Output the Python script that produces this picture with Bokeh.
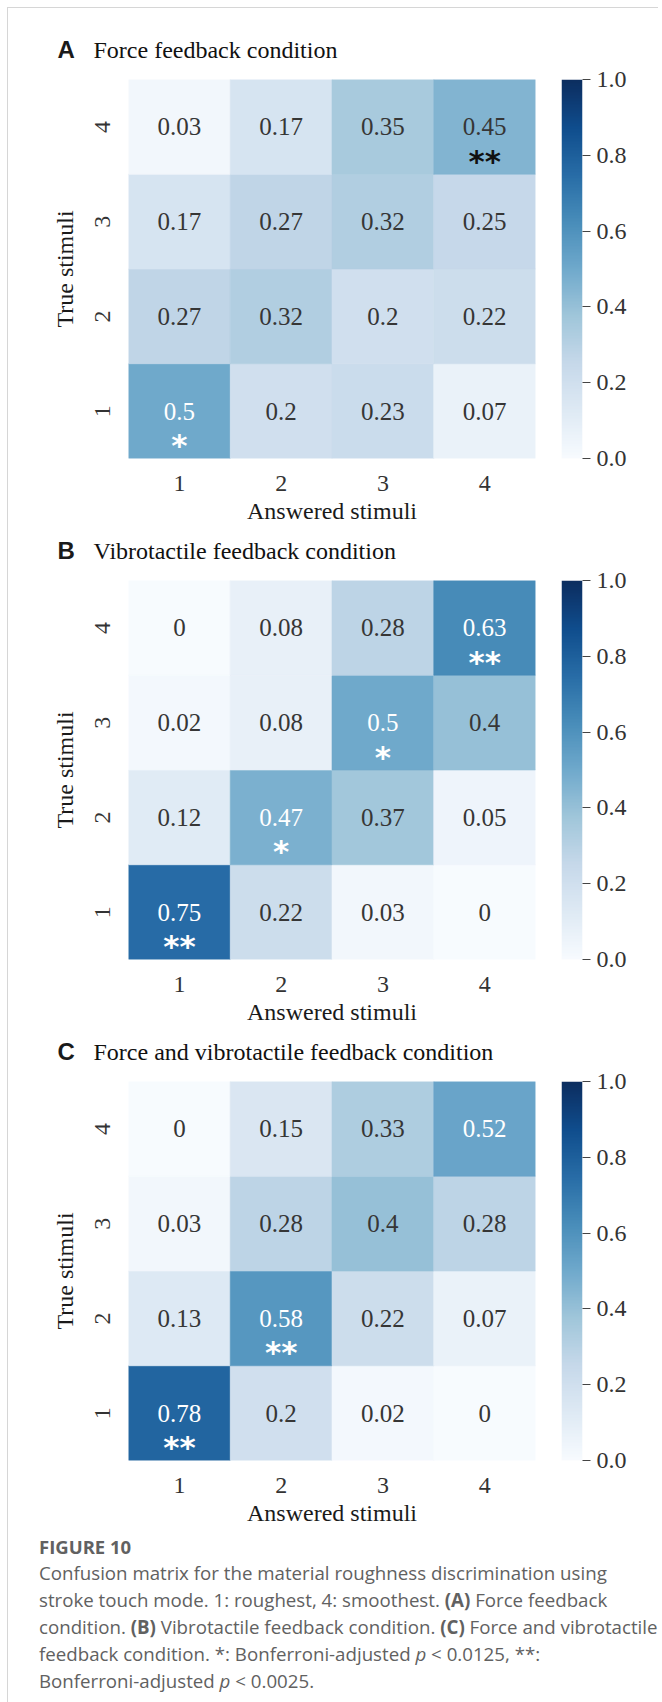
import numpy as np
from bokeh.plotting import figure
from bokeh.models import (ColumnDataSource, LinearColorMapper, FixedTicker,
                          Range1d, Div, PrintfTickFormatter)
from bokeh.layouts import column, row
from bokeh.core.properties import value
from bokeh.palettes import Blues9
from bokeh.embed import file_html
from bokeh.resources import INLINE

# ---------------- data ----------------
answered_ticks = ["1", "2", "3", "4"]
true_ticks = ["1", "2", "3", "4"]
# rows: true stimulus 1 (bottom) .. 4 (top); columns: answered stimulus 1..4
force_vals = [
    [0.5, 0.2, 0.23, 0.07],
    [0.27, 0.32, 0.2, 0.22],
    [0.17, 0.27, 0.32, 0.25],
    [0.03, 0.17, 0.35, 0.45],
]
force_sig = [
    ["*", "", "", ""],
    ["", "", "", ""],
    ["", "", "", ""],
    ["", "", "", "**"],
]
vibro_vals = [
    [0.75, 0.22, 0.03, 0],
    [0.12, 0.47, 0.37, 0.05],
    [0.02, 0.08, 0.5, 0.4],
    [0, 0.08, 0.28, 0.63],
]
vibro_sig = [
    ["**", "", "", ""],
    ["", "*", "", ""],
    ["", "", "*", ""],
    ["", "", "", "**"],
]
both_vals = [
    [0.78, 0.2, 0.02, 0],
    [0.13, 0.58, 0.22, 0.07],
    [0.03, 0.28, 0.4, 0.28],
    [0, 0.15, 0.33, 0.52],
]
both_sig = [
    ["**", "", "", ""],
    ["", "**", "", ""],
    ["", "", "", ""],
    ["", "", "", ""],
]
cbar_ticks = [0.0, 0.2, 0.4, 0.6, 0.8, 1.0]
panel_letters = ["A", "B", "C"]
panel_titles = ["Force feedback condition", "Vibrotactile feedback condition",
                "Force and vibrotactile feedback condition"]

# ---------------- palette (Blues, light -> dark, slightly muted) ----------------
base = list(reversed(Blues9))
rgb = np.array([[int(h[i:i + 2], 16) for i in (1, 3, 5)] for h in base], float)
pos = np.linspace(0, 1, len(base))
tt = np.linspace(0, 1, 256)
palette = []
for t in tt:
    c = np.array([np.interp(t, pos, rgb[:, k]) for k in range(3)])
    lum = 0.2126 * c[0] + 0.7152 * c[1] + 0.0722 * c[2]
    c = c * 0.88 + lum * 0.12
    c = c * (1 - 0.04 * t)
    palette.append('#%02x%02x%02x' % tuple(int(round(min(255, max(0, x)))) for x in c))

SERIF = "Liberation Serif"
TOTAL_W = 646
FW, FH = 407, 379
ML, GAP, MT, MB = 120, 26, 15, 72
CB_W = 21
UY = FH / 4.0


def header(idx, h):
    p = figure(width=TOTAL_W, height=h, x_range=Range1d(0, TOTAL_W), y_range=Range1d(0, h),
               output_backend="svg", toolbar_location=None, x_axis_location=None,
               y_axis_location=None, title=None, min_border_left=0, min_border_right=0,
               min_border_top=0, min_border_bottom=0, outline_line_color=None)
    p.grid.visible = False
    p.text(x=[49], y=[15], text=[panel_letters[idx]], text_font=value("Liberation Sans"),
           text_font_style="bold", text_font_size="24px", text_color="#1a1a1a",
           text_baseline="middle")
    p.text(x=[85], y=[15], text=[panel_titles[idx]], text_font=value(SERIF),
           text_font_size="24px", text_color="#111111", text_baseline="middle")
    return p


def panel(vals, sig):
    xs, ys, v, lab, tcol, st, scol, sy = [], [], [], [], [], [], [], []
    for i, r in enumerate(vals):
        for j, val in enumerate(r):
            xs.append(j + 1)
            ys.append(i + 1)
            v.append(val)
            lab.append(f"{val:g}")
            dark = val > 0.46
            tcol.append("#ffffff" if dark else "#363636")
            st.append(sig[i][j])
            scol.append("#ffffff" if dark else "#111111")
            sy.append(i + 1 - 34 / UY)
    src = ColumnDataSource(dict(x=xs, y=ys, v=v, label=lab, tcol=tcol, sig=st, scol=scol, sy=sy))
    mapper = LinearColorMapper(palette=palette, low=0.0, high=1.0)

    p = figure(frame_width=FW, frame_height=FH, x_range=Range1d(0.5, 4.5),
               y_range=Range1d(0.5, 4.5), output_backend="svg", toolbar_location=None,
               title=None, min_border_left=ML, min_border_right=GAP, min_border_top=MT,
               min_border_bottom=MB, outline_line_color=None)
    p.grid.visible = False
    p.rect(x="x", y="y", width=1, height=1, source=src,
           fill_color={"field": "v", "transform": mapper},
           line_color={"field": "v", "transform": mapper}, line_width=0.6)
    p.text(x="x", y="y", text="label", source=src, text_align="center",
           text_baseline="middle", text_color="tcol", text_font=value(SERIF),
           text_font_size="25px")
    p.text(x="x", y="sy", text="sig", source=src, text_align="center",
           text_baseline="middle", text_color="scol", text_font=value("DejaVu Sans"),
           text_font_style="bold", text_font_size="31px")

    for ax in (p.xaxis[0], p.yaxis[0]):
        ax.ticker = FixedTicker(ticks=[1, 2, 3, 4])
        ax.axis_line_color = None
        ax.major_tick_line_color = None
        ax.minor_tick_line_color = None
        ax.major_tick_out = 0
        ax.major_tick_in = 0
        ax.major_label_text_font = SERIF
        ax.major_label_text_font_size = "24px"
        ax.major_label_text_color = "#333333"
        ax.axis_label_text_font = SERIF
        ax.axis_label_text_font_size = "24px"
        ax.axis_label_text_font_style = "normal"
        ax.axis_label_text_color = "#1a1a1a"
    p.xaxis.major_label_overrides = {k + 1: t for k, t in enumerate(answered_ticks)}
    p.yaxis.major_label_overrides = {k + 1: t for k, t in enumerate(true_ticks)}
    p.xaxis.axis_label = "Answered stimuli"
    p.yaxis.axis_label = "True stimuli"
    p.xaxis.major_label_standoff = 17
    p.xaxis.axis_label_standoff = 4
    p.yaxis.major_label_orientation = "vertical"
    p.yaxis.major_label_standoff = 19
    p.yaxis.axis_label_standoff = 14

    # colour bar drawn as its own narrow plot
    cw = TOTAL_W - (ML + FW + GAP)
    cb = figure(frame_width=CB_W, frame_height=FH, x_range=Range1d(0, 1), y_range=Range1d(0, 1),
                output_backend="svg", toolbar_location=None, x_axis_location=None,
                y_axis_location="right", title=None, min_border_left=0,
                min_border_right=cw - CB_W, min_border_top=MT, min_border_bottom=MB,
                outline_line_color=None)
    cb.grid.visible = False
    grad = np.linspace(0, 1, 256).reshape(256, 1)
    cb.image(image=[grad], x=0, y=0, dw=1, dh=1, color_mapper=mapper)
    ya = cb.yaxis[0]
    ya.ticker = FixedTicker(ticks=cbar_ticks)
    ya.formatter = PrintfTickFormatter(format="%.1f")
    ya.axis_line_color = None
    ya.major_tick_in = 0
    ya.major_tick_out = 8
    ya.major_tick_line_color = "#444444"
    ya.minor_tick_line_color = None
    ya.major_label_standoff = 6
    ya.major_label_text_font = SERIF
    ya.major_label_text_font_size = "24px"
    ya.major_label_text_color = "#333333"
    return row(p, cb)


blocks = [
    header(0, 56), panel(force_vals, force_sig),
    header(1, 35), panel(vibro_vals, vibro_sig),
    header(2, 35), panel(both_vals, both_sig),
]

caption = Div(width=640, height=160, text=(
    '<div style="font-family:\'Open Sans\';color:#616161;padding-left:26px;margin-top:-2px;">'
    '<div style="font-weight:bold;font-size:18.5px;line-height:24px;">FIGURE 10</div>'
    '<div style="font-size:18.7px;line-height:27px;white-space:nowrap;">'
    'Confusion matrix for the material roughness discrimination using<br>'
    'stroke touch mode. 1: roughest, 4: smoothest. <b>(A)</b> Force feedback<br>'
    'condition. <b>(B)</b> Vibrotactile feedback condition. <b>(C)</b> Force and vibrotactile<br>'
    'feedback condition. *: Bonferroni-adjusted <i>p</i> &lt; 0.0125, **:<br>'
    'Bonferroni-adjusted <i>p</i> &lt; 0.0025.'
    '</div></div>'))

layout = column(*blocks, caption,
                styles={"margin-left": "7px", "margin-top": "7px",
                        "border-left": "1px solid #d6d6d6", "border-top": "1px solid #d6d6d6"})

open("out.html", "w").write(file_html(layout, INLINE))
